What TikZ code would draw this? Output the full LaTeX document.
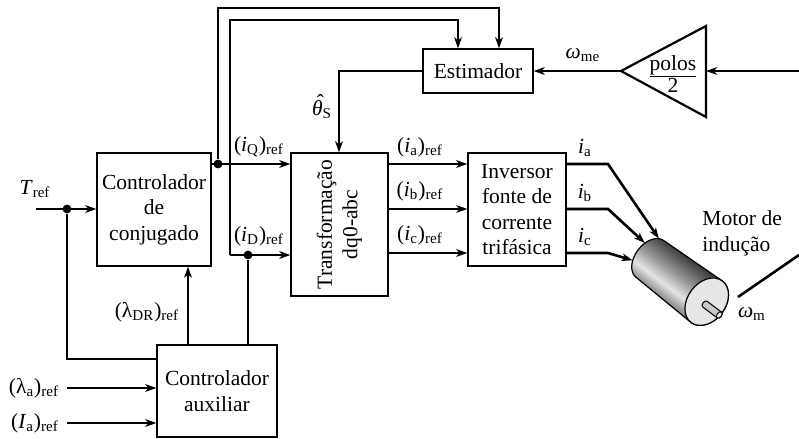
\documentclass[tikz,border=0pt]{standalone}
\usepackage{fontspec}
\setmainfont{Liberation Serif}
\usetikzlibrary{arrows.meta}

% greys of the induction motor
\definecolor{cylmid}{HTML}{7E7E7E}
\definecolor{cyllight}{HTML}{E4E4E4}
\definecolor{cylgray}{HTML}{999999}
\definecolor{cyldark}{HTML}{353535}
\definecolor{cylface}{HTML}{E6E6E6}
\definecolor{shaftc}{HTML}{C8C8C8}
\definecolor{shaftend}{HTML}{F2F2F2}
\pgfdeclareverticalshading{cylbody}{100bp}{color(0bp)=(cylmid); color(25bp)=(cylmid); color(39bp)=(cyllight); color(53bp)=(cylgray); color(75bp)=(cyldark); color(100bp)=(cyldark)}

\newcommand\lsub[1]{\textsubscript{#1}}
\newcommand\thetahat{\leavevmode\rlap{\kern0.22em\raisebox{0.26em}{ˆ}}\textit{θ}}

\begin{document}
\begin{tikzpicture}[x=0.5pt,y=-0.5pt,
  every node/.style={font=\fontsize{10.75}{12.7}\selectfont},
  box/.style={draw, line width=0.65pt, inner sep=0pt, align=center},
  lbl/.style={inner sep=0pt},
  conn/.style={line width=1.3pt},
  arr/.style={conn, -{Stealth[length=5.5pt,width=3.8pt,inset=1.5pt]}},
  dot/.style={circle, fill, inner sep=0pt, minimum size=4.4pt}]

\useasboundingbox (0,0) rectangle (799,439);

% ---- blocks ----
\node[box, minimum width=57pt, minimum height=56.5pt] (conj) at (154,209.5) {Controlador\\de\\conjugado};
\node[box, minimum width=48.5pt, minimum height=71.5pt] (tr) at (339.5,224.5)
  {\rotatebox{90}{\begin{tabular}{@{}c@{}}Transformação\\dq0-abc\end{tabular}}};
\node[box, minimum width=49pt, minimum height=56.5pt] (inv) at (517,209.5) {Inversor\\fonte de\\corrente\\trifásica};
\node[box, minimum width=55pt, minimum height=22pt] (est) at (478,71) {Estimador};
\node[box, minimum width=60pt, minimum height=46pt] (aux) at (217,391) {Controlador\\auxiliar};

% gain block polos/2
\coordinate (gA) at (621,71);
\coordinate (gT) at (706,26);
\coordinate (gB) at (706,117);
\coordinate (gR) at (706,71);
\draw[line width=1.1pt, line join=miter] (gA) -- (gT) -- (gB) -- cycle;
\node[lbl] (gain) at (673,74) {$\frac{\mbox{polos}}{\mbox{2}}$};

% ---- induction motor ----
\begin{scope}[transform canvas={shift={(650,259)}, rotate=-37}]
  \shadedraw[shading=cylbody, line width=0.6pt]
    (0,-23) -- (71,-26) arc[start angle=-90, end angle=90, x radius=19, y radius=26]
    -- (0,23) arc[start angle=90, end angle=270, x radius=15, y radius=23] -- cycle;
  \draw[fill=cylface, line width=0.6pt] (71,0) ellipse[x radius=19, y radius=26];
  \draw[fill=shaftc, line width=0.5pt] (71,-0.6) -- (89,-0.6)
    arc[start angle=-90, end angle=90, x radius=2.3, y radius=3.6] -- (71,6.6)
    arc[start angle=90, end angle=270, x radius=2.3, y radius=3.6] -- cycle;
  \draw[fill=shaftend, line width=0.5pt] (89,3) ellipse[x radius=2.3, y radius=3.6];
\end{scope}
\begin{scope}[shift={(650,259)}, rotate=-37]
  \coordinate (ma) at (-5.1,-21.6);
  \coordinate (mb) at (-13.6,-9.7);
  \coordinate (mc) at (-13,11.5);
\end{scope}

% ---- junction dots ----
\node[dot] (dT) at (67,209) {};
\node[dot] (dQ) at (218,164) {};
\node[dot] (dD) at (248,255) {};

% ---- helper points ----
\coordinate (tin) at (36,209);
\coordinate (cL) at (67,359);
\coordinate (la) at (67,388);
\coordinate (ia) at (67,423);
\coordinate (ldr) at (188,345);
\coordinate (o1) at (218,8);
\coordinate (o2) at (499,8);
\coordinate (iC) at (230,255);
\coordinate (i1) at (230,20);
\coordinate (i2) at (458,20);
\coordinate (th) at (339,71);
\coordinate (win) at (799,71);
\coordinate (ya) at (0,164);
\coordinate (yb) at (0,209);
\coordinate (yc) at (0,253);
\coordinate (ka) at (608,164);
\coordinate (kb) at (608,209);
\coordinate (kc) at (608,253);
\coordinate (wm1) at (738,297);
\coordinate (wm2) at (799,255);

% ---- connectors ----
\draw[arr] (tin) -- (tin -| conj.west);
\draw[conn] (dT) -- (cL) -- (cL -| aux.west);
\draw[arr] (la) -- (la -| aux.west);
\draw[arr] (ia) -- (ia -| aux.west);
\draw[arr] (ldr) -- (ldr |- conj.south);
\draw[conn] (dD |- aux.north) -- (dD);
\draw[arr] (conj.east |- dQ) -- (dQ -| tr.west);
\draw[arr] (dQ) -- (o1) -- (o2) -- (o2 |- est.north);
\draw[arr] (iC) -- (i1) -- (i2) -- (i2 |- est.north);
\draw[arr] (iC) -- (iC -| tr.west);
\draw[arr] (est.west) -- (th) -- (th |- tr.north);
\draw[arr] (gA) -- (est.east);
\draw[arr] (win) -- (gR);
\draw[arr] (tr.east |- ya) -- (inv.west |- ya);
\draw[arr] (tr.east |- yb) -- (inv.west |- yb);
\draw[arr] (tr.east |- yc) -- (inv.west |- yc);
\draw[arr] (inv.east |- ya) -- (ka) -- (ma);
\draw[arr] (inv.east |- yb) -- (kb) -- (mb);
\draw[arr] (inv.east |- yc) -- (kc) -- (mc);
\draw[conn] (wm1) -- (wm2);

% ---- labels ----
\node[lbl] (lT) at (35,189) {\textit{T}\lsub{ref}};
\node[lbl] (lQ) at (259,147) {(\textit{i}\lsub{Q})\lsub{ref}};
\node[lbl] (lD) at (259,236) {(\textit{i}\lsub{D})\lsub{ref}};
\node[lbl] (lar) at (420,147) {(\textit{i}\lsub{a})\lsub{ref}};
\node[lbl] (lbr) at (420,191) {(\textit{i}\lsub{b})\lsub{ref}};
\node[lbl] (lcr) at (420,235) {(\textit{i}\lsub{c})\lsub{ref}};
\node[lbl] (lia) at (585,148) {\textit{i}\lsub{a}};
\node[lbl] (lib) at (585,193) {\textit{i}\lsub{b}};
\node[lbl] (lic) at (585,237) {\textit{i}\lsub{c}};
\node[lbl] (lwme) at (583,55) {\textit{ω}\lsub{me}};
\node[lbl] (lth) at (322,107) {\thetahat\lsub{S}};
\node[lbl] (ldrl) at (147,312) {(λ\lsub{DR})\lsub{ref}};
\node[lbl] (lla) at (34,388) {(λ\lsub{a})\lsub{ref}};
\node[lbl] (lIa) at (35,423) {(\textit{I}\lsub{a})\lsub{ref}};
\node[lbl, anchor=west, align=left] (lmot) at (702,233.5) {Motor de\\indução};
\node[lbl] (lwm) at (752,314) {\textit{ω}\lsub{m}};
\end{tikzpicture}
\end{document}
